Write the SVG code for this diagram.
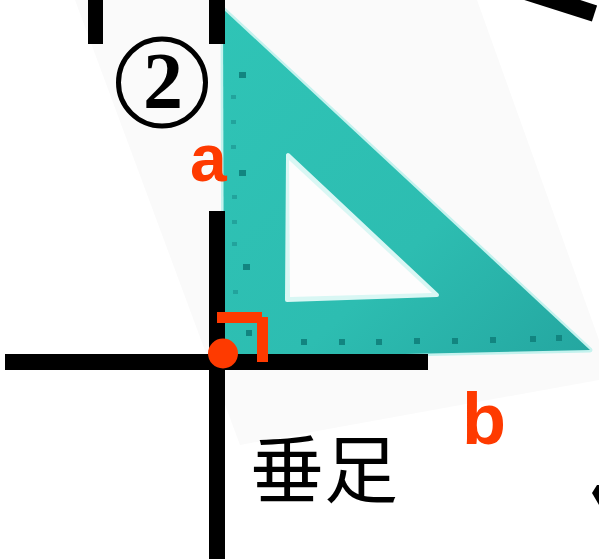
<svg xmlns="http://www.w3.org/2000/svg" width="599" height="559" viewBox="0 0 599 559">
  <defs>
    <style>
      .blk { fill: #000; }
      .red { fill: #fe3a00; }
      .lbl { font-family: "Liberation Sans", Arial, sans-serif; font-weight: bold; fill: #fe3a00; }
      .cjk { font-family: "Noto Sans CJK SC", "Noto Sans CJK JP", sans-serif; fill: #000; }
      .num { font-family: "Liberation Serif", "Times New Roman", serif; font-weight: bold; fill: #000; }
      .tick { fill: #128580; }
      .mtick { fill: #22a39c; }
    </style>
    <linearGradient id="teal" x1="0" y1="0" x2="1" y2="1">
      <stop offset="0" stop-color="#2fc4b6"/>
      <stop offset="0.6" stop-color="#2dbdb1"/>
      <stop offset="1" stop-color="#24a6a0"/>
    </linearGradient>
  </defs>
  <rect width="599" height="559" fill="#ffffff"/>
  <!-- faint photo background -->
  <polygon points="75,0 477,0 599,340 599,380 240,445" fill="#fafafa"/>

  <!-- set square -->
  <g id="set-square">
    <polygon points="223,9 224,358 590,350" fill="#c4f2ee" stroke="#c4f2ee" stroke-width="5" stroke-linejoin="round"/>
    <polygon points="223,9 224,358 590,350" fill="url(#teal)"/>
    <polygon points="288,155 287,300 437,295" fill="#d9f7f4" stroke="#d9f7f4" stroke-width="4" stroke-linejoin="round"/>
    <polygon points="289,160 290,297 432,293" fill="#fdfdfd"/>
    <g id="ticks">
      <rect class="tick" x="239" y="72" width="7" height="6"/>
      <rect class="tick" x="239" y="170" width="7" height="6"/>
      <rect class="tick" x="243" y="264" width="7" height="6"/>
      <rect class="mtick" x="231" y="95" width="5" height="4"/>
      <rect class="mtick" x="231" y="120" width="5" height="4"/>
      <rect class="mtick" x="231" y="145" width="5" height="4"/>
      <rect class="mtick" x="232" y="195" width="5" height="4"/>
      <rect class="mtick" x="232" y="220" width="5" height="4"/>
      <rect class="mtick" x="232" y="242" width="5" height="4"/>
      <rect class="mtick" x="233" y="290" width="5" height="4"/>
      <rect class="mtick" x="233" y="315" width="5" height="4"/>
      <rect class="tick" x="246" y="330" width="6" height="6"/>
      <rect class="tick" x="301" y="339" width="6" height="6"/>
      <rect class="tick" x="339" y="339" width="6" height="6"/>
      <rect class="tick" x="376" y="339" width="6" height="6"/>
      <rect class="tick" x="414" y="338" width="6" height="6"/>
      <rect class="tick" x="452" y="338" width="6" height="6"/>
      <rect class="tick" x="490" y="337" width="6" height="6"/>
      <rect class="tick" x="530" y="336" width="6" height="6"/>
      <rect class="tick" x="556" y="335" width="6" height="6"/>
    </g>
  </g>

  <!-- black lines -->
  <g id="lines">
    <rect class="blk" x="88" y="0" width="15" height="44"/>
    <rect class="blk" x="209" y="0" width="16" height="44"/>
    <rect class="blk" x="209" y="211" width="16" height="348"/>
    <rect class="blk" x="5" y="354" width="423" height="16"/>
    <line x1="500" y1="-16.7" x2="594.5" y2="13.5" stroke="#000" stroke-width="17"/>
    <polygon class="blk" points="592,493 597,485 599,485 599,505"/>
  </g>

  <!-- right angle mark and foot point -->
  <g id="right-angle">
    <rect class="red" x="217" y="312" width="45" height="11"/>
    <rect class="red" x="257" y="317" width="11" height="45"/>
  </g>
  <g id="foot-point">
    <circle class="red" cx="223" cy="353.5" r="15"/>
  </g>

  <!-- labels -->
  <g id="label-2">
    <circle cx="162" cy="82.5" r="43.5" fill="none" stroke="#000" stroke-width="5"/>
    <text class="num" x="163" y="108" font-size="80" text-anchor="middle">2</text>
  </g>
  <g id="label-a">
    <text class="lbl" x="190" y="181" font-size="66">a</text>
  </g>
  <g id="label-b">
    <text class="lbl" x="462" y="444" font-size="72">b</text>
  </g>
  <g id="label-foot">
    <text class="cjk" x="250" y="497" font-size="74">垂足</text>
  </g>
</svg>
